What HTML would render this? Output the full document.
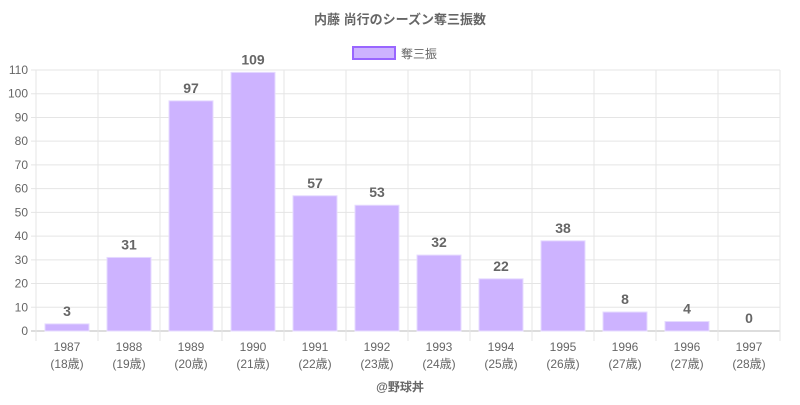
<!DOCTYPE html>
<html><head><meta charset="utf-8"><style>
body{margin:0;background:#fff;}
svg text{font-family:"Liberation Sans","Noto Sans CJK JP",sans-serif;}
</style></head><body>
<svg width="800" height="400" viewBox="0 0 800 400">
<text x="400" y="24" text-anchor="middle" font-size="13" font-weight="bold" fill="#666">内藤 尚行のシーズン奪三振数</text>
<g>
<rect x="353" y="47" width="42" height="12" fill="#cdb3ff" stroke="#9966ff" stroke-width="2"/>
<text x="401" y="58" font-size="12" fill="#666">奪三振</text>
</g>
<g id="grid"></g>
<g id="bars"></g>
<text x="400" y="391" text-anchor="middle" font-size="12" font-weight="bold" fill="#666">@野球丼</text>
</svg>
<script>
const years=["1987","1988","1989","1990","1991","1992","1993","1994","1995","1996","1996","1997"];
const ages=["(18歳)","(19歳)","(20歳)","(21歳)","(22歳)","(23歳)","(24歳)","(25歳)","(26歳)","(27歳)","(27歳)","(28歳)"];
const strikeouts=[3,31,97,109,57,53,32,22,38,8,4,0];
const yTicks=[0,10,20,30,40,50,60,70,80,90,100,110];
const NS="http://www.w3.org/2000/svg";
const L=36,R=780,T=70,B=331,yMax=110;
const bw=(R-L)/years.length;
const y=v=>B-(v/yMax)*(B-T);
const xc=i=>L+bw*(i+0.5);
function mk(t,a,p){const e=document.createElementNS(NS,t);for(const k in a)e.setAttribute(k,a[k]);p.appendChild(e);return e;}
const g=document.getElementById('grid'),bg=document.getElementById('bars');
yTicks.forEach(v=>{
 const ln=mk('line',{x1:L-5,x2:R,y1:y(v),y2:y(v),stroke:v===0?'#bbb':'#e5e5e5'},g);
 
 
 const t=mk('text',{x:L-8,y:y(v)+4,'text-anchor':'end','font-size':12,fill:'#666'},g);
 t.textContent=v;
 
 
});
for(let i=0;i<=years.length;i++){
 const x=L+bw*i;
 const ln=mk('line',{x1:x,x2:x,y1:T,y2:B+10,stroke:'#e5e5e5'},g);
 
 
}
strikeouts.forEach((v,i)=>{
 const w=44;
 const r=mk('rect',{x:xc(i)-w/2,y:y(v),width:w,height:B-y(v),fill:'#cdb3ff',stroke:'#e6dbff','stroke-width':1},bg);
 
 
 const t=mk('text',{x:xc(i),y:y(v)-8,'text-anchor':'middle','font-size':14,'font-weight':'bold',fill:'#666'},bg);
 t.textContent=v;
 
 
 const a=mk('text',{x:xc(i),y:351,'text-anchor':'middle','font-size':12,fill:'#666'},bg);
 a.textContent=years[i];
 
 
 const b=mk('text',{x:xc(i),y:368,'text-anchor':'middle','font-size':12,fill:'#666'},bg);
 b.textContent=ages[i];
 
 
});
</script>
</body></html>
